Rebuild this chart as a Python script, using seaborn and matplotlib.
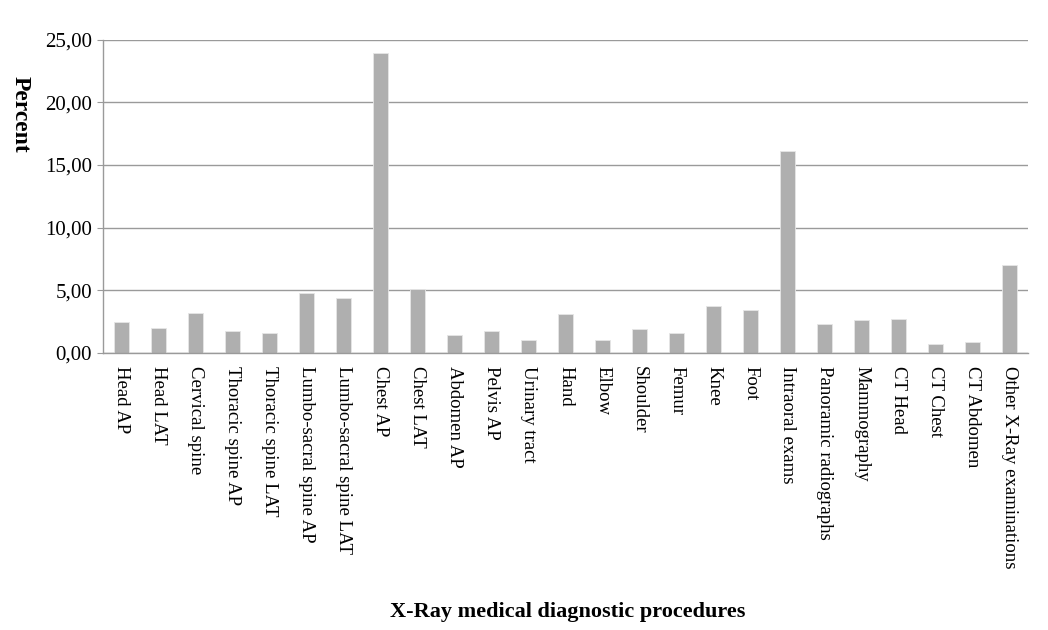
import pandas as pd
import matplotlib.pyplot as plt
import seaborn as sns
from matplotlib.ticker import FuncFormatter

procedures = ['Head AP', 'Head LAT', 'Cervical spine', 'Thoracic spine AP', 'Thoracic spine LAT',
              'Lumbo-sacral spine AP', 'Lumbo-sacral spine LAT', 'Chest AP', 'Chest LAT', 'Abdomen AP',
              'Pelvis AP', 'Urinary tract', 'Hand', 'Elbow', 'Shoulder', 'Femur', 'Knee', 'Foot',
              'Intraoral exams', 'Panoramic radiographs', 'Mammography', 'CT Head', 'CT Chest',
              'CT Abdomen', 'Other X-Ray examinations']
percent = [2.43, 1.98, 3.20, 1.76, 1.56, 4.79, 4.39, 23.90, 5.08, 1.42,
           1.76, 1.05, 3.08, 1.06, 1.90, 1.56, 3.70, 3.41, 16.13, 2.30,
           2.59, 2.67, 0.71, 0.85, 7.01]
y_ticks = [0, 5, 10, 15, 20, 25]

df = pd.DataFrame({'procedure': procedures, 'percent': percent})

sns.set_style("white")
plt.rcParams['font.family'] = ['Liberation Serif', 'DejaVu Serif']
plt.rcParams['text.color'] = 'black'
plt.rcParams['xtick.color'] = 'black'
plt.rcParams['ytick.color'] = 'black'

fig = plt.figure(figsize=(10.48, 6.3), dpi=100)
ax = fig.add_axes([0.0983, 0.440, 0.8826, 0.497])

sns.barplot(data=df, x='procedure', y='percent', color='#afafaf', saturation=1,
            width=0.4, edgecolor='#e6e6e6', linewidth=0.6, ax=ax)

ax.set_ylim(0, 25)
ax.set_xlim(-0.5, len(procedures) - 0.5)
ax.set_yticks(y_ticks)
ax.yaxis.set_major_formatter(FuncFormatter(lambda v, p: f"{v:.2f}".replace('.', ',')))
ax.grid(axis='y', color='#9a9a9a', linewidth=1)
ax.set_axisbelow(True)

for side in ['top', 'right']:
    ax.spines[side].set_visible(False)
for side in ['left', 'bottom']:
    ax.spines[side].set_color('#9a9a9a')
    ax.spines[side].set_linewidth(1)

ax.tick_params(axis='y', which='major', left=True, length=4, color='#9a9a9a',
               labelcolor='black', labelsize=15, pad=4)
ax.tick_params(axis='x', bottom=False, labelcolor='black', labelsize=13.5, pad=6)
plt.setp(ax.get_xticklabels(), rotation=-90, va='top', ha='center')

ax.set_xlabel('')
ax.set_ylabel('')
fig.text(0.542, 0.028, 'X-Ray medical diagnostic procedures', ha='center', va='center',
         fontsize=16, fontweight='bold')
fig.text(0.019, 0.818, 'Percent', ha='center', va='center', rotation=-90,
         fontsize=17, fontweight='bold')

plt.savefig('out.png', dpi=100)
